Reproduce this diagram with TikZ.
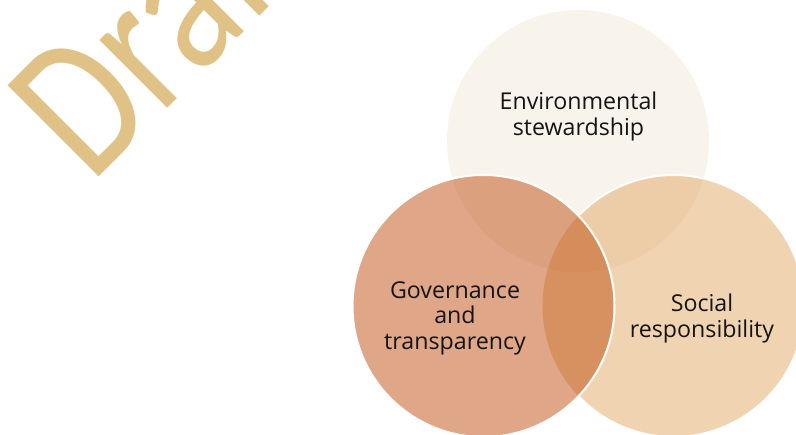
\documentclass[tikz,border=0pt]{standalone}
\usepackage{fontspec}
\setmainfont{Open Sans}
\newfontfamily\wmfont{Carlito}
\usetikzlibrary{calc}

\definecolor{envfill}{RGB}{241,233,217}
\definecolor{socfill}{RGB}{225,167,99}
\definecolor{govfill}{RGB}{191,77,17}
\definecolor{wmgold}{RGB}{224,194,135}
\definecolor{labelink}{RGB}{20,20,20}

\begin{document}
\begin{tikzpicture}[x=1pt,y=1pt,
  vennring/.style={circle, inner sep=0pt, outer sep=0pt, minimum size=262pt,
                   draw=none, fill opacity=0.5},
  rim/.style={draw=white, line width=2pt},
  vennlabel/.style={align=center, inner sep=0pt, text=labelink,
                    font=\fontsize{23.2}{25.6}\selectfont}]

\useasboundingbox (0,0) rectangle (796,435);
\clip (0,0) rectangle (796,435);

% diagonal watermark
\node[anchor=base west, inner sep=0pt, rotate=45, xscale=0.79, text=wmgold,
      font=\wmfont\fontsize{201}{201}\selectfont] (wm) at (91.6,250.6) {Draft};

% the three overlapping circles
\node[vennring, fill=envfill] (env) at (578,294) {};
\node[vennring, fill=socfill] (soc) at (673.5,129) {};
\draw[rim] ($(soc.center)+(136.6:131)$) arc[start angle=136.6, end angle=-136.6, radius=131];
\node[vennring, fill=govfill] (gov) at (483.5,129) {};
\draw[rim] (gov.center) circle[radius=131];

% circle captions
\node[vennlabel] (envtext) at (578.5,318.3) {Environmental\\stewardship};
\node[vennlabel] (govtext) at (455,116.8) {Governance\\and\\transparency};
\node[vennlabel] (soctext) at (702,116.6) {Social\\responsibility};

\end{tikzpicture}
\end{document}
